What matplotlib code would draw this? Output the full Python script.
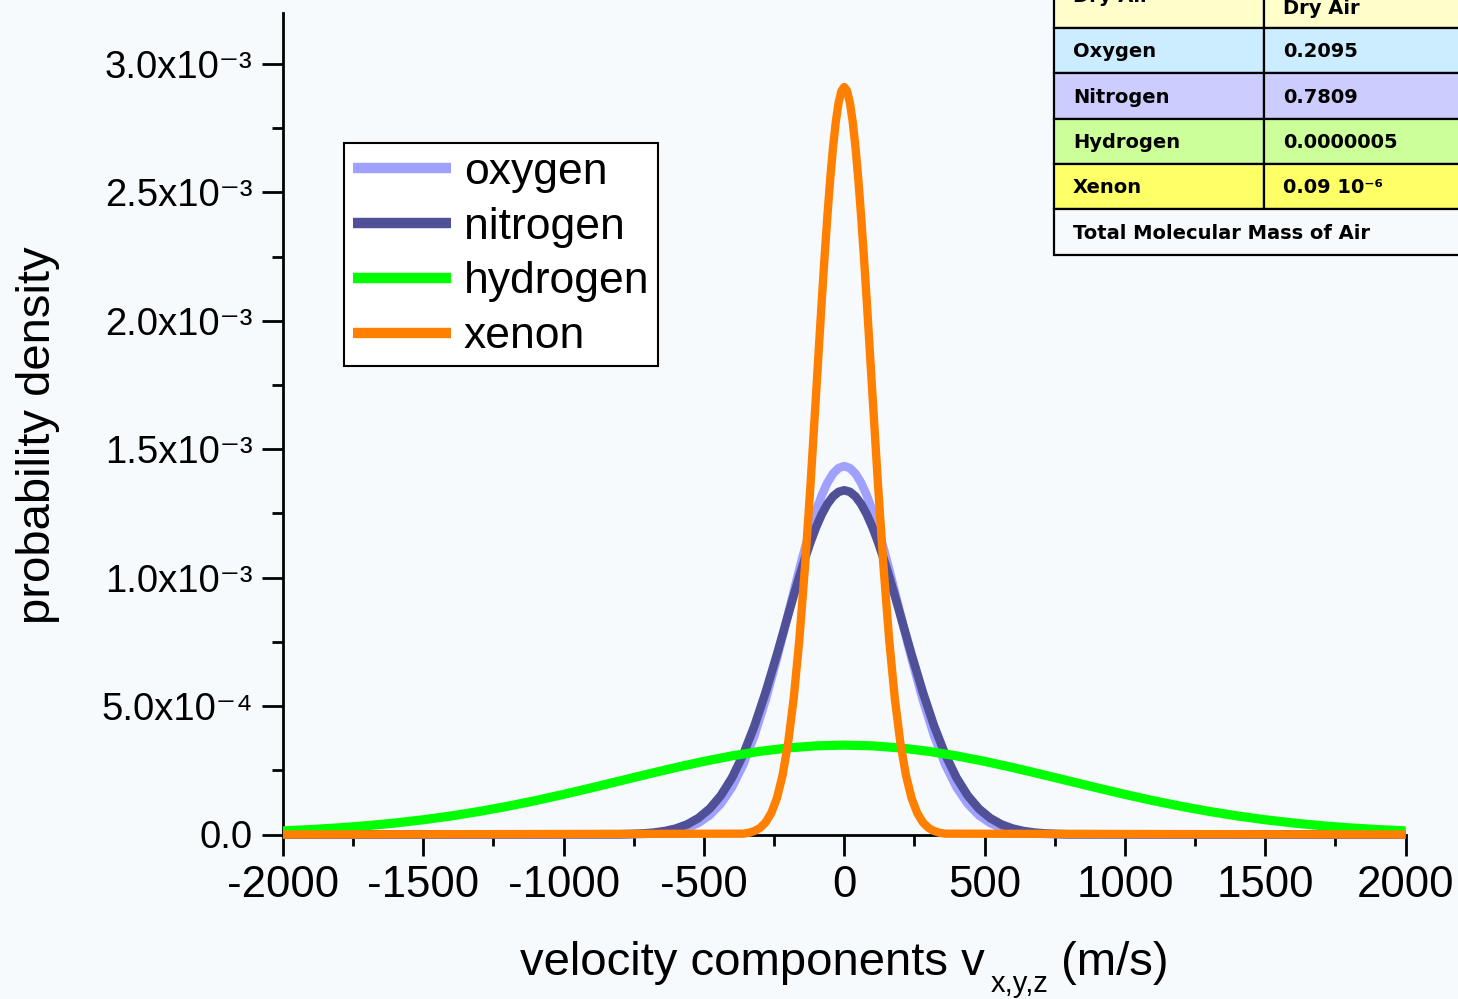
import matplotlib
matplotlib.use("Agg")
import matplotlib.pyplot as plt
from matplotlib.patches import Rectangle
from matplotlib.transforms import IdentityTransform

plt.rcParams['font.family'] = ['Liberation Sans', 'DejaVu Sans']

BG = '#F6FAFC'

# ---------------- data (probability density in units of 1e-3) ----------------
v_xenon = [-2000, -360, -340, -320, -300, -280, -260, -240, -220, -200, -180,
           -160, -140, -120, -100, -90, -80, -70, -60, -50, -40, -30, -20, -10,
           0, 10, 20, 30, 40, 50, 60, 70, 80, 90, 100, 120, 140, 160, 180, 200,
           220, 240, 260, 280, 300, 320, 340, 360, 2000]
xenon = [0.0, 0.0032, 0.0067, 0.0135, 0.0258, 0.0475, 0.0837, 0.1415, 0.2294,
         0.3565, 0.5312, 0.7591, 1.0402, 1.3665, 1.7216, 1.9022, 2.0798, 2.2501,
         2.4089, 2.5522, 2.6755, 2.7757, 2.8495, 2.8948, 2.910, 2.8948, 2.8495,
         2.7757, 2.6755, 2.5522, 2.4089, 2.2501, 2.0798, 1.9022, 1.7216, 1.3665,
         1.0402, 0.7591, 0.5312, 0.3565, 0.2294, 0.1415, 0.0837, 0.0475, 0.0258,
         0.0135, 0.0067, 0.0032, 0.0]

v_air = [-2000, -800, -760, -720, -680, -640, -600, -560, -520, -480, -440,
         -400, -360, -320, -280, -240, -220, -200, -180, -160, -140, -120, -100,
         -80, -60, -40, -20, 0, 20, 40, 60, 80, 100, 120, 140, 160, 180, 200,
         220, 240, 280, 320, 360, 400, 440, 480, 520, 560, 600, 640, 680, 720,
         760, 800, 2000]
oxygen = [0.0, 0.0004, 0.0009, 0.0019, 0.0038, 0.0075, 0.0141, 0.0256, 0.0446,
          0.0746, 0.1196, 0.1840, 0.2719, 0.3854, 0.5244, 0.6848, 0.7706,
          0.8583, 0.9462, 1.0325, 1.1151, 1.1921, 1.2613, 1.3209, 1.3693,
          1.4049, 1.4267, 1.434, 1.4267, 1.4049, 1.3693, 1.3209, 1.2613, 1.1921,
          1.1151, 1.0325, 0.9462, 0.8583, 0.7706, 0.6848, 0.5244, 0.3854,
          0.2719, 0.1840, 0.1196, 0.0746, 0.0446, 0.0256, 0.0141, 0.0075,
          0.0038, 0.0019, 0.0009, 0.0004, 0.0]
nitrogen = [0.0, 0.0010, 0.0020, 0.0039, 0.0073, 0.0133, 0.0232, 0.0392, 0.0638,
            0.1000, 0.1514, 0.2210, 0.3113, 0.4229, 0.5542, 0.7004, 0.7769,
            0.8540, 0.9303, 1.0044, 1.0746, 1.1394, 1.1973, 1.2468, 1.2868,
            1.3161, 1.3340, 1.340, 1.3340, 1.3161, 1.2868, 1.2468, 1.1973,
            1.1394, 1.0746, 1.0044, 0.9303, 0.8540, 0.7769, 0.7004, 0.5542,
            0.4229, 0.3113, 0.2210, 0.1514, 0.1000, 0.0638, 0.0392, 0.0232,
            0.0133, 0.0073, 0.0039, 0.0020, 0.0010, 0.0]

v_hydrogen = [-2000, -1900, -1800, -1700, -1600, -1500, -1400, -1300, -1200,
              -1100, -1000, -900, -800, -700, -600, -500, -400, -300, -200,
              -100, 0, 100, 200, 300, 400, 500, 600, 700, 800, 900, 1000, 1100,
              1200, 1300, 1400, 1500, 1600, 1700, 1800, 1900, 2000]
hydrogen = [0.0141, 0.0193, 0.0260, 0.0344, 0.0448, 0.0574, 0.0724, 0.0899,
            0.1098, 0.1320, 0.1562, 0.1819, 0.2084, 0.2350, 0.2608, 0.2848,
            0.3061, 0.3238, 0.3370, 0.3452, 0.3480, 0.3452, 0.3370, 0.3238,
            0.3061, 0.2848, 0.2608, 0.2350, 0.2084, 0.1819, 0.1562, 0.1320,
            0.1098, 0.0899, 0.0724, 0.0574, 0.0448, 0.0344, 0.0260, 0.0193,
            0.0141]

series_names = ['oxygen', 'nitrogen', 'hydrogen', 'xenon']
series_colors = ['#A0A0FF', '#505099', '#00FF00', '#FF8000']

x_major = [-2000, -1500, -1000, -500, 0, 500, 1000, 1500, 2000]
x_major_labels = ['-2000', '-1500', '-1000', '-500', '0', '500', '1000', '1500', '2000']
x_minor = [-1750, -1250, -750, -250, 250, 750, 1250, 1750]
y_major = [0.0, 0.5e-3, 1.0e-3, 1.5e-3, 2.0e-3, 2.5e-3, 3.0e-3]
y_major_labels = ['0.0', '5.0x10\u207b\u2074', '1.0x10\u207b\u00b3', '1.5x10\u207b\u00b3',
                  '2.0x10\u207b\u00b3', '2.5x10\u207b\u00b3', '3.0x10\u207b\u00b3']
y_minor = [0.25e-3, 0.75e-3, 1.25e-3, 1.75e-3, 2.25e-3, 2.75e-3]

x_label_main = 'velocity components v'
x_label_sub = 'x,y,z'
x_label_unit = ' (m/s)'
y_label = 'probability density'

table_header = ['Dry Air', 'Dry Air']
table_gases = ['Oxygen', 'Nitrogen', 'Hydrogen', 'Xenon']
table_fractions = ['0.2095', '0.7809', '0.0000005', '0.09 10\u207b\u2076']
table_footer = 'Total Molecular Mass of Air'
table_colors = ['#CCECFF', '#CCCCFF', '#CCFF99', '#FFFF66']
header_color = '#FFFFCC'

UNIT = 1e-3

# ---------------- figure ----------------
W, H = 1458, 999
fig = plt.figure(figsize=(W / 100, H / 100), dpi=100, facecolor=BG)
ax = fig.add_axes([283 / W, (H - 834.5) / H, 1122.5 / W, 822 / H])
ax.set_facecolor('none')

xs = [v_air, v_air, v_hydrogen, v_xenon]
ys = [oxygen, nitrogen, hydrogen, xenon]
lws = [6.2, 6.2, 6.6, 6.0]
for i, (xv, yv) in enumerate(zip(xs, ys)):
    ax.plot(xv, [y * UNIT for y in yv], color=series_colors[i], lw=lws[i],
            label=series_names[i], clip_on=False, zorder=3 + i,
            solid_capstyle='butt', solid_joinstyle='round')

ax.set_xlim(-2000, 2000)
ax.set_ylim(0, 3.2e-3)

for s in ['top', 'right']:
    ax.spines[s].set_visible(False)
for s in ['left', 'bottom']:
    ax.spines[s].set_linewidth(2.0)
    ax.spines[s].set_color('black')

ax.set_xticks(x_major)
ax.set_xticklabels(x_major_labels)
ax.set_xticks(x_minor, minor=True)
ax.set_yticks(y_major)
ax.set_yticklabels(y_major_labels)
ax.set_yticks(y_minor, minor=True)

ax.tick_params(axis='both', which='major', direction='out', length=15, width=2.0,
               color='black')
ax.tick_params(axis='both', which='minor', direction='out', length=8, width=2.0,
               color='black')
ax.tick_params(axis='x', which='major', labelsize=31.5, pad=7)
ax.tick_params(axis='y', which='major', labelsize=27.5, pad=7)

ax.set_ylabel(y_label, fontsize=34)
ax.yaxis.set_label_coords(-0.1987, 0.486)

leg = ax.legend(loc='upper left',
                bbox_to_anchor=((344 - 283) / 1122.5, (834.5 - 143) / 822),
                fontsize=32, frameon=True, fancybox=False, edgecolor='black',
                facecolor='white', framealpha=1, borderpad=0.2,
                labelspacing=0.31, handlelength=2.2, handletextpad=0.3,
                borderaxespad=0)
leg.get_frame().set_linewidth(1.5)
for h in leg.legend_handles:
    h.set_linewidth(7.5)
leg.set_zorder(10)

# ---------------- x label with a lowered subscript ----------------
renderer = fig.canvas.get_renderer()
ident = IdentityTransform()
t1 = fig.text(0, H - 975, x_label_main, fontsize=34, va='baseline', ha='left',
              transform=ident)
t2 = fig.text(0, H - 992, x_label_sub, fontsize=21, va='baseline', ha='left',
              transform=ident)
t3 = fig.text(0, H - 975, x_label_unit, fontsize=34, va='baseline', ha='left',
              transform=ident)
w1 = t1.get_window_extent(renderer).width
w2 = t2.get_window_extent(renderer).width
w3 = t3.get_window_extent(renderer).width
gap = 5
total = w1 + gap + w2 + w3
x0 = 844.5 - total / 2
t1.set_x(x0)
t2.set_x(x0 + w1 + gap)
t3.set_x(x0 + w1 + gap + w2)

# ---------------- table (top right, in figure pixels) ----------------
tax = fig.add_axes([0, 0, 1, 1])
tax.set_xlim(0, W)
tax.set_ylim(H, 0)
tax.axis('off')
tax.set_zorder(20)

col_x = [1054, 1264, 1475]
row_y = [-30, 28.3, 73.3, 119, 164, 209.3, 255]
edge_lw = 1.6
fills = [header_color] + table_colors
for r in range(5):
    for c in range(2):
        tax.add_patch(Rectangle((col_x[c], row_y[r]), col_x[c + 1] - col_x[c],
                                row_y[r + 1] - row_y[r], facecolor=fills[r],
                                edgecolor='black', lw=edge_lw, clip_on=False))
tax.add_patch(Rectangle((col_x[0], row_y[5]), col_x[2] - col_x[0],
                        row_y[6] - row_y[5], facecolor=BG, edgecolor='black',
                        lw=edge_lw, clip_on=False))

tfont = dict(family='DejaVu Sans', weight='bold', fontsize=14, color='black')
tax.text(col_x[0] + 19, 2.5, table_header[0], va='baseline', ha='left', **tfont)
tax.text(col_x[1] + 19, 13.5, table_header[1], va='baseline', ha='left', **tfont)
for i in range(4):
    yc = (row_y[i + 1] + row_y[i + 2]) / 2 + 1
    tax.text(col_x[0] + 19, yc, table_gases[i], va='center', ha='left', **tfont)
    tax.text(col_x[1] + 19, yc, table_fractions[i], va='center', ha='left', **tfont)
tax.text(col_x[0] + 19, (row_y[5] + row_y[6]) / 2 + 1, table_footer, va='center',
         ha='left', **tfont)

fig.savefig('out.png', dpi=100, facecolor=BG)
